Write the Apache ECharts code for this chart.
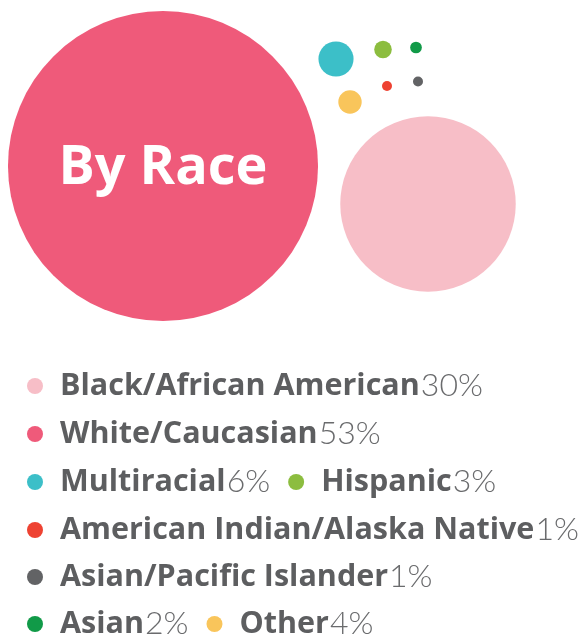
<!DOCTYPE html>
<html>
<head>
<meta charset="utf-8">
<script src="https://cdn.jsdelivr.net/npm/echarts@6/dist/echarts.min.js"></script>
<style>
  html, body { margin: 0; padding: 0; background: #fff; }
  #main { width: 580px; height: 639px; }
</style>
</head>
<body>
<div id="main"></div>
<script>
// categories and share (%)
var races = ['White/Caucasian', 'Black/African American', 'Multiracial', 'Hispanic', 'Asian', 'American Indian/Alaska Native', 'Asian/Pacific Islander', 'Other'];
var shares = [53, 30, 6, 3, 2, 1, 1, 4];
var colors = ['#ef5a7a', '#f7bec7', '#3cbfc8', '#8cbd3f', '#119a48', '#ee4232', '#626365', '#f9c55b'];

// packed bubble layout (pixel space of the 580x639 canvas)
var bubbleX = [163, 428, 336, 383, 416, 387, 418, 350];
var bubbleY = [166, 204, 59, 49.5, 47.5, 86, 81.5, 102];

// legend rows as they appear under the bubbles
var legendRows = [
  ['Black/African American'],
  ['White/Caucasian'],
  ['Multiracial', 'Hispanic'],
  ['American Indian/Alaska Native'],
  ['Asian/Pacific Islander'],
  ['Asian', 'Other']
];
var rowTop = [365, 413, 461, 509, 556, 603];

var myChart = echarts.init(document.getElementById('main'));

var series = [];
for (var i = 0; i < races.length; i++) {
  series.push({
    name: races[i],
    type: 'scatter',
    data: [[bubbleX[i], bubbleY[i], shares[i]]],
    symbolSize: function (d) {
      return Math.max(d[2] * 5.85, 10);
    },
    itemStyle: { color: colors[i], opacity: 1 },
    emphasis: { disabled: true },
    label: i === 0 ? {
      show: true,
      position: 'inside',
      offset: [0, 3],
      formatter: 'By Race',
      color: '#fff',
      fontSize: 54,
      fontWeight: 'bold',
      fontFamily: 'Open Sans'
    } : { show: false }
  });
}

var legends = [];
for (var r = 0; r < legendRows.length; r++) {
  legends.push({
    left: 22,
    top: rowTop[r],
    orient: 'horizontal',
    selectedMode: false,
    icon: 'circle',
    itemWidth: 16,
    itemHeight: 16,
    itemGap: 18,
    data: legendRows[r],
    formatter: function (name) {
      return '{n|' + name + '}{p|' + shares[races.indexOf(name)] + '%}';
    },
    textStyle: {
      rich: {
        n: {
          fontFamily: 'Open Sans',
          fontWeight: 'bold',
          fontSize: 30.5,
          color: '#5d5e60',
          padding: [0, 1, 0, 12],
          lineHeight: 34
        },
        p: {
          fontFamily: 'Lato',
          fontWeight: 300,
          fontSize: 32,
          color: '#6a6b6d',
          lineHeight: 34
        }
      }
    }
  });
}

var option = {
  animation: false,
  backgroundColor: '#fff',
  grid: { left: 0, right: 0, top: 0, bottom: 0 },
  xAxis: { type: 'value', min: 0, max: 580, show: false },
  yAxis: { type: 'value', min: 0, max: 639, inverse: true, show: false },
  tooltip: { show: false },
  legend: legends,
  series: series
};
myChart.setOption(option);
</script>
</body>
</html>
